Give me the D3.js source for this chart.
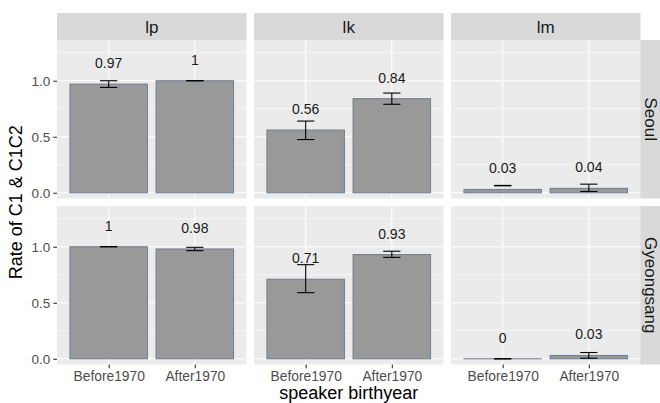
<!DOCTYPE html>
<html>
<head>
<meta charset="utf-8">
<script src="https://cdn.jsdelivr.net/npm/d3@7"></script>
<style>
  html, body { margin: 0; padding: 0; background: #ffffff; }
  svg { display: block; }
  text { font-family: "Liberation Sans", Arial, Helvetica, sans-serif; }
</style>
</head>
<body>
<svg id="chart" width="660" height="403"></svg>
<script>
// ---- data ----
const regions = ["Seoul", "Gyeongsang"];
const segments = ["lp", "lk", "lm"];
const groups = ["Before1970", "After1970"];

const seoulRate = { lp: [0.97, 1.00], lk: [0.56, 0.84], lm: [0.03, 0.04] };
const seoulLow  = { lp: [0.94, 1.00], lk: [0.475, 0.79], lm: [0.062, 0.012] };
const seoulHigh = { lp: [1.00, 1.00], lk: [0.64, 0.89], lm: [0.066, 0.077] };

const gyeongRate = { lp: [1.00, 0.98], lk: [0.71, 0.93], lm: [0.00, 0.03] };
const gyeongLow  = { lp: [1.00, 0.965], lk: [0.59, 0.905], lm: [0.00, 0.005] };
const gyeongHigh = { lp: [1.00, 0.995], lk: [0.84, 0.96], lm: [0.00, 0.056] };

const yTicks = [0, 0.5, 1.0];
const yMinor = [0.25, 0.75, 1.25];
const yTickLabels = ["0.0", "0.5", "1.0"];

const xTitle = "speaker birthyear";
const yTitle = "Rate of C1 & C1C2";

const rateData = { Seoul: seoulRate, Gyeongsang: gyeongRate };
const lowData = { Seoul: seoulLow, Gyeongsang: gyeongLow };
const highData = { Seoul: seoulHigh, Gyeongsang: gyeongHigh };

// ---- layout ----
const svg = d3.select("#chart");
const colX = [57, 254, 451];
const panelW = 189.5;
const rowY = [40, 206];
const panelH = 158.5;
const stripTop = 13, stripH = 27;
const rightStripX = 640, rightStripW = 27;

const yDomain = [-0.051, 1.3635];

const x = d3.scalePoint().domain(groups).range([0, panelW]).padding(0.6);
const step = x.step();
const barW = step * 0.9;
const capW = step * 0.2;

const C = {
  panel: "#ebebeb", strip: "#d9d9d9", grid: "#ffffff",
  stripText: "#1a1a1a", tickText: "#4d4d4d", tick: "#333333",
  barFill: "#999999", barStroke: "#6e7f90", err: "#000000", label: "#1a1a1a", title: "#000000"
};

// top strips
segments.forEach((s, j) => {
  const g = svg.append("g").attr("transform", `translate(${colX[j]},${stripTop})`);
  g.append("rect").attr("width", panelW).attr("height", stripH).attr("fill", C.strip);
  g.append("text").attr("x", panelW / 2).attr("y", stripH / 2).attr("dy", "0.36em")
    .attr("text-anchor", "middle").attr("font-size", 17).attr("fill", C.stripText).text(s);
});

// right strips
regions.forEach((r, i) => {
  const g = svg.append("g").attr("transform", `translate(${rightStripX},${rowY[i]})`);
  g.append("rect").attr("width", rightStripW).attr("height", panelH).attr("fill", C.strip);
  g.append("text").attr("transform", `translate(${11.5},${panelH / 2}) rotate(90)`)
    .attr("dy", "0.36em").attr("text-anchor", "middle").attr("font-size", 17)
    .attr("fill", C.stripText).text(r);
});

regions.forEach((r, i) => {
  const y = d3.scaleLinear().domain(yDomain).range([rowY[i] + panelH, rowY[i]]);
  segments.forEach((s, j) => {
    const g = svg.append("g").attr("transform", `translate(${colX[j]},0)`);
    g.append("rect").attr("x", 0).attr("y", rowY[i]).attr("width", panelW).attr("height", panelH).attr("fill", C.panel);
    // minor grid
    g.selectAll(".minor").data(yMinor).enter().append("line")
      .attr("x1", 0).attr("x2", panelW).attr("y1", d => y(d)).attr("y2", d => y(d))
      .attr("stroke", C.grid).attr("stroke-width", 0.55);
    // major grid
    g.selectAll(".major").data(yTicks).enter().append("line")
      .attr("x1", 0).attr("x2", panelW).attr("y1", d => y(d)).attr("y2", d => y(d))
      .attr("stroke", C.grid).attr("stroke-width", 1.1);
    g.selectAll(".vmajor").data(groups).enter().append("line")
      .attr("x1", d => x(d)).attr("x2", d => x(d)).attr("y1", rowY[i]).attr("y2", rowY[i] + panelH)
      .attr("stroke", C.grid).attr("stroke-width", 1.1);

    const rates = rateData[r][s], lows = lowData[r][s], highs = highData[r][s];
    const rows = groups.map((gname, k) => ({ g: gname, v: rates[k], lo: lows[k], hi: highs[k] }));

    // bars
    g.selectAll(".bar").data(rows).enter().append("rect")
      .attr("x", d => x(d.g) - barW / 2).attr("width", barW)
      .attr("y", d => y(d.v)).attr("height", d => Math.max(0.05, y(0) - y(d.v)))
      .attr("fill", C.barFill).attr("stroke", C.barStroke).attr("stroke-width", 1);

    // error bars
    const eb = g.selectAll(".eb").data(rows).enter().append("g");
    eb.append("line").attr("x1", d => x(d.g)).attr("x2", d => x(d.g))
      .attr("y1", d => y(d.lo)).attr("y2", d => y(d.hi)).attr("stroke", C.err).attr("stroke-width", 1.1);
    eb.append("line").attr("x1", d => x(d.g) - capW / 2).attr("x2", d => x(d.g) + capW / 2)
      .attr("y1", d => y(d.lo)).attr("y2", d => y(d.lo)).attr("stroke", C.err).attr("stroke-width", 1.1);
    eb.append("line").attr("x1", d => x(d.g) - capW / 2).attr("x2", d => x(d.g) + capW / 2)
      .attr("y1", d => y(d.hi)).attr("y2", d => y(d.hi)).attr("stroke", C.err).attr("stroke-width", 1.1);

    // value labels
    g.selectAll(".lab").data(rows).enter().append("text")
      .attr("x", d => x(d.g)).attr("y", d => y(d.v) - 21).attr("dy", "0.36em")
      .attr("text-anchor", "middle").attr("font-size", 14).attr("fill", C.label)
      .text(d => d3.format("~g")(+d.v.toFixed(2)));

    // y axis on first column
    if (j === 0) {
      const ax = svg.append("g").attr("transform", `translate(${colX[0]},0)`)
        .call(d3.axisLeft(y).tickValues(yTicks).tickFormat((d, k) => yTickLabels[k]).tickSize(3.7).tickPadding(3));
      ax.select(".domain").remove();
      ax.selectAll("line").attr("stroke", C.tick).attr("stroke-width", 1.1);
      ax.selectAll("text").attr("font-size", 13.5).attr("fill", C.tickText)
        .attr("font-family", "'Liberation Sans', Arial, sans-serif");
    }
    // x axis on bottom row
    if (i === regions.length - 1) {
      const ax = svg.append("g").attr("transform", `translate(${colX[j]},${rowY[i] + panelH})`)
        .call(d3.axisBottom(x).tickSize(3.7).tickPadding(3));
      ax.select(".domain").remove();
      ax.selectAll("line").attr("stroke", C.tick).attr("stroke-width", 1.1);
      ax.selectAll("text").attr("font-size", 13.8).attr("fill", C.tickText)
        .attr("font-family", "'Liberation Sans', Arial, sans-serif");
    }
  });
});

// axis titles
const panelsLeft = colX[0], panelsRight = colX[2] + panelW;
svg.append("text").attr("x", (panelsLeft + panelsRight) / 2).attr("y", 399)
  .attr("text-anchor", "middle").attr("font-size", 18).attr("fill", C.title).text(xTitle);
svg.append("text").attr("transform", `translate(22,${(rowY[0] + rowY[1] + panelH) / 2}) rotate(-90)`)
  .attr("text-anchor", "middle").attr("font-size", 18).attr("fill", C.title).text(yTitle);
</script>
</body>
</html>
